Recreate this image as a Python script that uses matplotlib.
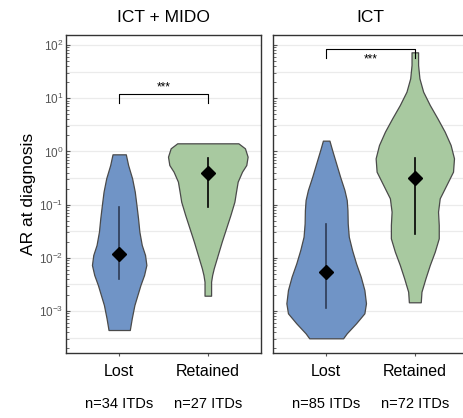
import matplotlib
matplotlib.use('Agg')
import matplotlib.pyplot as plt
import matplotlib.ticker as mticker
import numpy as np

plt.rcParams['font.family'] = ['Liberation Sans', 'DejaVu Sans']
plt.rcParams['mathtext.fontset'] = 'custom'
plt.rcParams['mathtext.rm'] = 'Liberation Sans'
plt.rcParams['mathtext.it'] = 'Liberation Sans:italic'

panels = ['ICT + MIDO', 'ICT']
groups = ['Lost', 'Retained']
n_labels = [['n=34 ITDs', 'n=27 ITDs'], ['n=85 ITDs', 'n=72 ITDs']]
colors = ['#7094c6', '#a8c9a0']

# violin outlines: log10(AR) and half width (category units)
p1_lost_log = [-0.055, -0.256, -0.506, -0.757, -1.008, -1.258, -1.509, -1.759, -1.947,
               -2.135, -2.323, -2.511, -2.699, -2.887, -3.138, -3.357]
p1_lost_hw = [0.075, 0.101, 0.146, 0.176, 0.195, 0.213, 0.228, 0.255, 0.292,
              0.307, 0.281, 0.240, 0.206, 0.172, 0.142, 0.120]
p1_ret_log = [0.152, 0.058, -0.099, -0.256, -0.381, -0.569, -0.757, -0.945, -1.195,
              -1.446, -1.697, -1.947, -2.198, -2.323, -2.449, -2.712]
p1_ret_hw = [0.345, 0.419, 0.449, 0.434, 0.386, 0.337, 0.318, 0.300, 0.255,
             0.206, 0.157, 0.112, 0.067, 0.049, 0.037, 0.037]
p2_lost_log = [0.202, 0.026, -0.224, -0.475, -0.726, -0.914, -1.102, -1.352, -1.603,
               -1.853, -2.104, -2.355, -2.605, -2.855, -3.043, -3.231, -3.419, -3.513]
p2_lost_hw = [0.037, 0.067, 0.112, 0.157, 0.206, 0.232, 0.240, 0.243, 0.255,
              0.292, 0.337, 0.390, 0.431, 0.449, 0.431, 0.337, 0.232, 0.191]
p2_ret_log = [1.862, 1.624, 1.374, 1.123, 0.872, 0.622, 0.371, 0.120, -0.130, -0.381,
              -0.632, -0.882, -1.133, -1.383, -1.634, -1.885, -2.135, -2.386, -2.637, -2.836]
p2_ret_hw = [0.037, 0.037, 0.052, 0.094, 0.169, 0.255, 0.337, 0.404, 0.442, 0.431,
             0.356, 0.281, 0.262, 0.270, 0.270, 0.225, 0.169, 0.120, 0.075, 0.067]

profiles = [[(p1_lost_log, p1_lost_hw), (p1_ret_log, p1_ret_hw)],
            [(p2_lost_log, p2_lost_hw), (p2_ret_log, p2_ret_hw)]]

# median and interval (log10)
medians = [[-1.935, -0.412], [-2.26, -0.494]]
lows = [[-2.405, -1.039], [-2.95, -1.558]]
highs = [[-1.045, -0.13], [-1.365, -0.118]]

# significance bracket (log10): top, end
brackets = [(1.079, 0.91), (1.925, 1.755)]
star_y = [1.21, 1.72]

ytick_vals = [1e-3, 1e-2, 1e-1, 1e0, 1e1, 1e2]
ytick_labels = ['$10^{-3}$', '$10^{-2}$', '$10^{-1}$', '$10^{0}$', '$10^{1}$', '$10^{2}$']

fig = plt.figure(figsize=(4.63, 4.18), dpi=100)
axpos = [[0.1425, 0.1555, 0.4212, 0.7608], [0.5896, 0.1555, 0.4212, 0.7608]]

for i in range(2):
    ax = fig.add_axes(axpos[i])
    ax.set_yscale('log')
    ax.set_xlim(0.4, 2.6)
    ax.set_ylim(10 ** -3.789, 10 ** 2.188)
    for h in np.arange(-3.5, 2.01, 0.5):
        ax.axhline(10 ** h, color='#ebebeb', lw=0.9, zorder=0)
    for j in range(2):
        lg, hw = profiles[i][j]
        yv = 10 ** np.array(lg)
        hw = np.array(hw)
        ax.fill_betweenx(yv, j + 1 - hw, j + 1 + hw, facecolor=colors[j],
                         edgecolor='#4a4a4a', lw=0.9, zorder=2)
        lc = '#2d3b55' if j == 0 else 'black'
        ax.plot([j + 1, j + 1], [10 ** lows[i][j], 10 ** highs[i][j]], color=lc, lw=1.2, zorder=3)
        ax.plot(j + 1, 10 ** medians[i][j], marker='D', color='black', ms=7, zorder=4)
        ax.text(j + 1, -0.16, n_labels[i][j], transform=ax.get_xaxis_transform(),
                ha='center', va='center', fontsize=10.5)
    top, end = brackets[i]
    ax.plot([1, 1, 2, 2], [10 ** end, 10 ** top, 10 ** top, 10 ** end], color='black', lw=0.8, zorder=3)
    ax.text(1.5, 10 ** star_y[i], '***', ha='center', va='center', fontsize=8.5)
    ax.set_xticks([1, 2])
    ax.set_xticklabels(groups, fontsize=11.5)
    ax.tick_params(axis='x', length=2, color='#555555', pad=6)
    ax.yaxis.set_major_locator(mticker.FixedLocator(ytick_vals))
    ax.yaxis.set_minor_locator(mticker.LogLocator(base=10, subs=np.arange(2, 10), numticks=10))
    ax.yaxis.set_minor_formatter(mticker.NullFormatter())
    ax.tick_params(axis='y', which='major', direction='in', length=3, color='#555555',
                   labelsize=8.5, labelcolor='#555555', pad=2)
    ax.tick_params(axis='y', which='minor', direction='in', length=1.8, color='#555555')
    if i == 1:
        ax.yaxis.set_major_formatter(mticker.NullFormatter())
    else:
        ax.set_yticklabels(ytick_labels)
        ax.set_ylabel('AR at diagnosis', fontsize=12.5, labelpad=2)
    for s in ax.spines.values():
        s.set_color('#333333')
        s.set_linewidth(1.0)
    ax.set_title(panels[i], fontsize=12.5, pad=9)

fig.savefig('out.png', dpi=100)
